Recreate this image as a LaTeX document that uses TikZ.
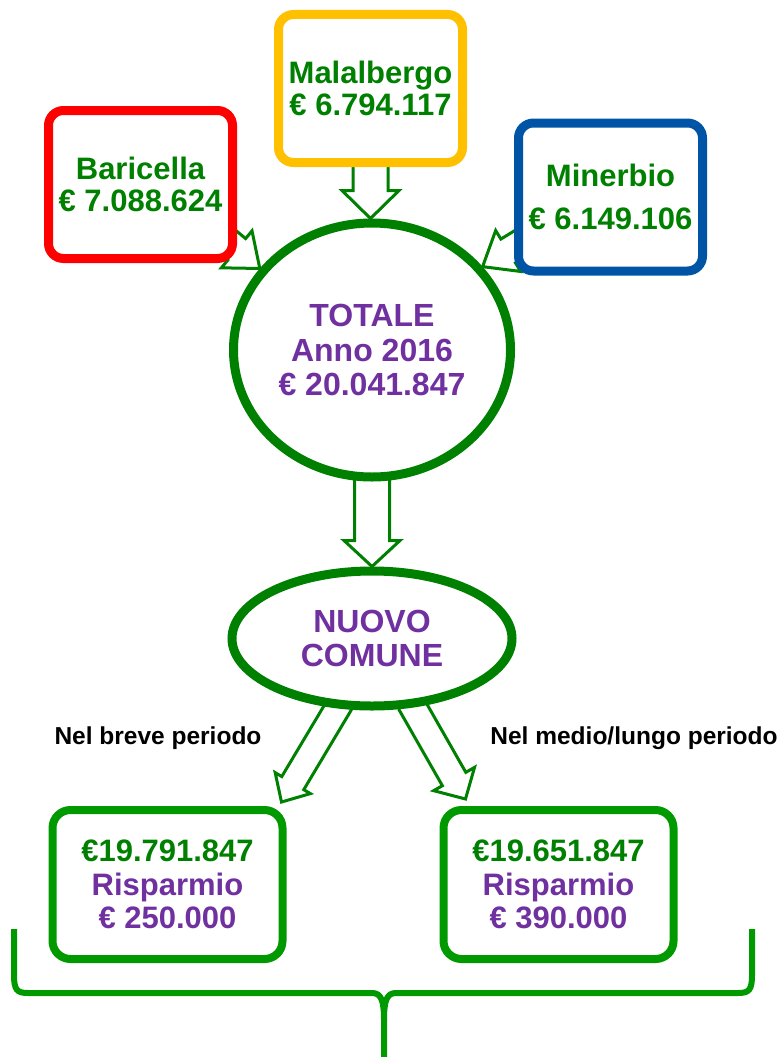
\documentclass[tikz,border=0pt]{standalone}
\usepackage{fontspec}
\setmainfont{Liberation Sans}
\usetikzlibrary{calc,shapes.geometric,backgrounds}
\definecolor{verde}{HTML}{008000}
\definecolor{verdechiaro}{HTML}{009900}
\definecolor{viola}{HTML}{7030A0}
\definecolor{rosso}{HTML}{FF0000}
\definecolor{arancio}{HTML}{FFC000}
\definecolor{blu}{HTML}{0054A6}
\newcommand{\grande}{\fontsize{31}{33.5}\selectfont\bfseries}
\newcommand{\grandeoval}{\fontsize{32}{34.5}\selectfont\bfseries}
\newcommand{\piccolo}{\fontsize{24.5}{28}\selectfont\bfseries}
% block arrow: shaft half width, head half width, head length, from, to
\newcommand{\blockarrow}[5]{%
  \path (#4) coordinate (ba-s) (#5) coordinate (ba-e);
  \path ($(ba-e)!#3!(ba-s)$) coordinate (ba-h);
  \draw[arr] ($(ba-s)!#1!90:(ba-e)$) -- ($(ba-h)!#1!-90:(ba-s)$) -- ($(ba-h)!#2!-90:(ba-s)$)
    -- (ba-e) -- ($(ba-h)!#2!90:(ba-s)$) -- ($(ba-h)!#1!90:(ba-s)$) -- ($(ba-s)!#1!-90:(ba-e)$);}

\begin{document}
\begin{tikzpicture}[x=1pt,y=-1pt,
  box/.style={draw,rounded corners=15pt,line width=9pt,fill=white,minimum width=184pt,minimum height=148pt,align=center,font=\grande},
  oval/.style={ellipse,draw=verde,line width=9pt,fill=white,align=center,text=viola,font=\grandeoval},
  esito/.style={draw=verdechiaro,rounded corners=18pt,line width=8pt,fill=white,minimum width=230pt,minimum height=149pt,align=center,text=viola,font=\grande},
  lbl/.style={font=\piccolo,text=black},
  arr/.style={draw=verde,line width=3pt,fill=white,line join=miter}]
\useasboundingbox (0,0) rectangle (783,1057);

\node[box,draw=rosso,text=verde] (bar) at (140.5,184.5) {Baricella\\[-2pt]€ 7.088.624};
\node[box,draw=arancio,text=verde] (mal) at (370.5,88.5) {Malalbergo\\[-2pt]€ 6.794.117};
\node[box,draw=blu,text=verde] (min) at (610.5,197) {Minerbio\\[9pt]€ 6.149.106};

\node[oval,minimum width=277pt,minimum height=254pt] (tot) at (372,350) {TOTALE\\Anno 2016\\€ 20.041.847};
\node[oval,minimum width=280pt,minimum height=135pt] (nuovo) at (372,638.5) {NUOVO\\COMUNE};

\node[lbl] (breve) at (158,738) {Nel breve periodo};
\node[lbl] (lungo) at (634,738) {Nel medio/lungo periodo};

\node[esito] (bre) at (167.5,884.5) {\textcolor{verde}{€19.791.847}\\Risparmio\\€ 250.000};
\node[esito] (lun) at (558.5,884.5) {\textcolor{verde}{€19.651.847}\\Risparmio\\€ 390.000};

\begin{pgfonlayer}{background}
\blockarrow{17.5pt}{28.5pt}{28pt}{mal.south}{mal.south |- tot.north}
\blockarrow{14pt}{24pt}{30pt}{$(bar.south east)+(-14,-25)$}{tot.144}
\blockarrow{14pt}{24pt}{30pt}{$(min.south west)+(13,-36)$}{tot.37}
\blockarrow{17.5pt}{28pt}{26pt}{$(tot.south)!6pt!(tot.center)$}{nuovo.north}
\blockarrow{12.8pt}{20.5pt}{22pt}{$(nuovo.244)!6pt!(nuovo.center)$}{$(bre.north east)+(-5,-4)$}
\blockarrow{13.5pt}{23.5pt}{23pt}{$(nuovo.301)!6pt!(nuovo.center)$}{$(lun.north west)+(26,-7)$}
\end{pgfonlayer}

% graffa
\draw[verdechiaro,line width=6pt] (14,929) -- (14,975) .. controls (14,990) and (17,993) .. (28,993)
  -- (372,993) .. controls (381,993) and (384,1000) .. (384,1020) -- (384,1057);
\draw[verdechiaro,line width=6pt] (752,929) -- (752,975) .. controls (752,990) and (749,993) .. (738,993)
  -- (396,993) .. controls (387,993) and (384,1000) .. (384,1020);
\end{tikzpicture}
\end{document}
